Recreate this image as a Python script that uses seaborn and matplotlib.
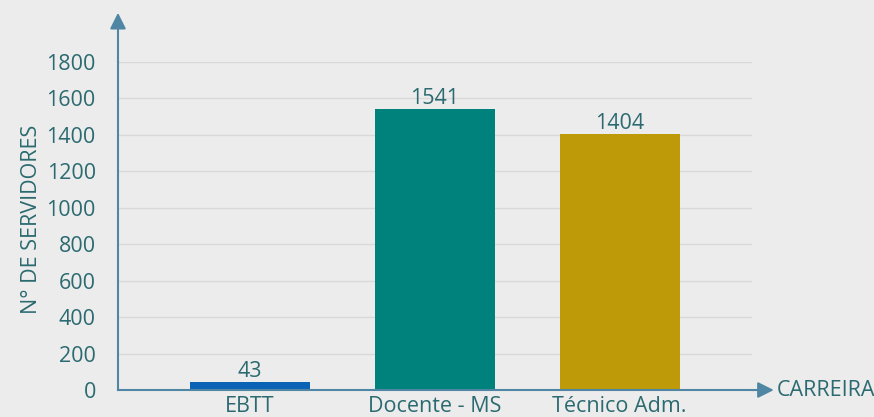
import matplotlib.pyplot as plt
import seaborn as sns
import pandas as pd

carreiras = ['EBTT', 'Docente - MS', 'Técnico Adm.']
servidores = [43, 1541, 1404]
cores = ['#0b63b6', '#00827c', '#bf9a08']

txt_color = '#2b6a70'
axis_color = '#4f86a3'
bg = '#ececec'

df = pd.DataFrame({'carreira': carreiras, 'servidores': servidores})

sns.set_style('white')
plt.rcParams['font.family'] = ['Open Sans', 'DejaVu Sans']

fig = plt.figure(figsize=(8.74, 4.17), dpi=100, facecolor=bg)
ax = fig.add_axes([0.135, 0.0647, 0.725, 0.7866])
ax.set_facecolor('none')

sns.barplot(data=df, x='carreira', y='servidores', hue='carreira', palette=cores,
            width=0.65, legend=False, ax=ax, saturation=1, edgecolor='none', linewidth=0)

ax.set_xlim(-0.714, 2.714)
ax.set_ylim(0, 1800)
ax.set_yticks(range(0, 1801, 200))
ax.yaxis.grid(True, color='#d9d9d9', linewidth=1)
ax.set_axisbelow(True)

for s in ['top', 'right']:
    ax.spines[s].set_visible(False)
for s in ['left', 'bottom']:
    ax.spines[s].set_color(axis_color)
    ax.spines[s].set_linewidth(1.5)

fs = 15.5
ax.tick_params(axis='both', length=0, labelsize=fs, labelcolor=txt_color)
ax.tick_params(axis='x', pad=4)
ax.tick_params(axis='y', pad=16)

for i, v in enumerate(servidores):
    ax.annotate(str(v), (i, v), xytext=(0, 0), textcoords='offset points',
                ha='center', va='bottom', fontsize=fs, color=txt_color)

ax.set_xlabel('')
ax.set_ylabel('N° DE SERVIDORES', fontsize=fs, color=txt_color)
ax.yaxis.set_label_coords(-0.12, 0.52)

# setas dos eixos
ax.annotate('', xy=(0, 1.15), xytext=(0, 1.0), xycoords='axes fraction',
            arrowprops=dict(arrowstyle='-|>', color=axis_color, lw=1.5,
                            mutation_scale=24, shrinkA=0, shrinkB=0), annotation_clip=False)
ax.annotate('', xy=(1.035, 0), xytext=(1.0, 0), xycoords='axes fraction',
            arrowprops=dict(arrowstyle='-|>', color=axis_color, lw=1.5,
                            mutation_scale=24, shrinkA=0, shrinkB=0), annotation_clip=False)
ax.text(1.04, 0, 'CARREIRA', transform=ax.transAxes, fontsize=fs, color=txt_color,
        ha='left', va='center', clip_on=False)

fig.savefig('out.png', dpi=100, facecolor=bg)
